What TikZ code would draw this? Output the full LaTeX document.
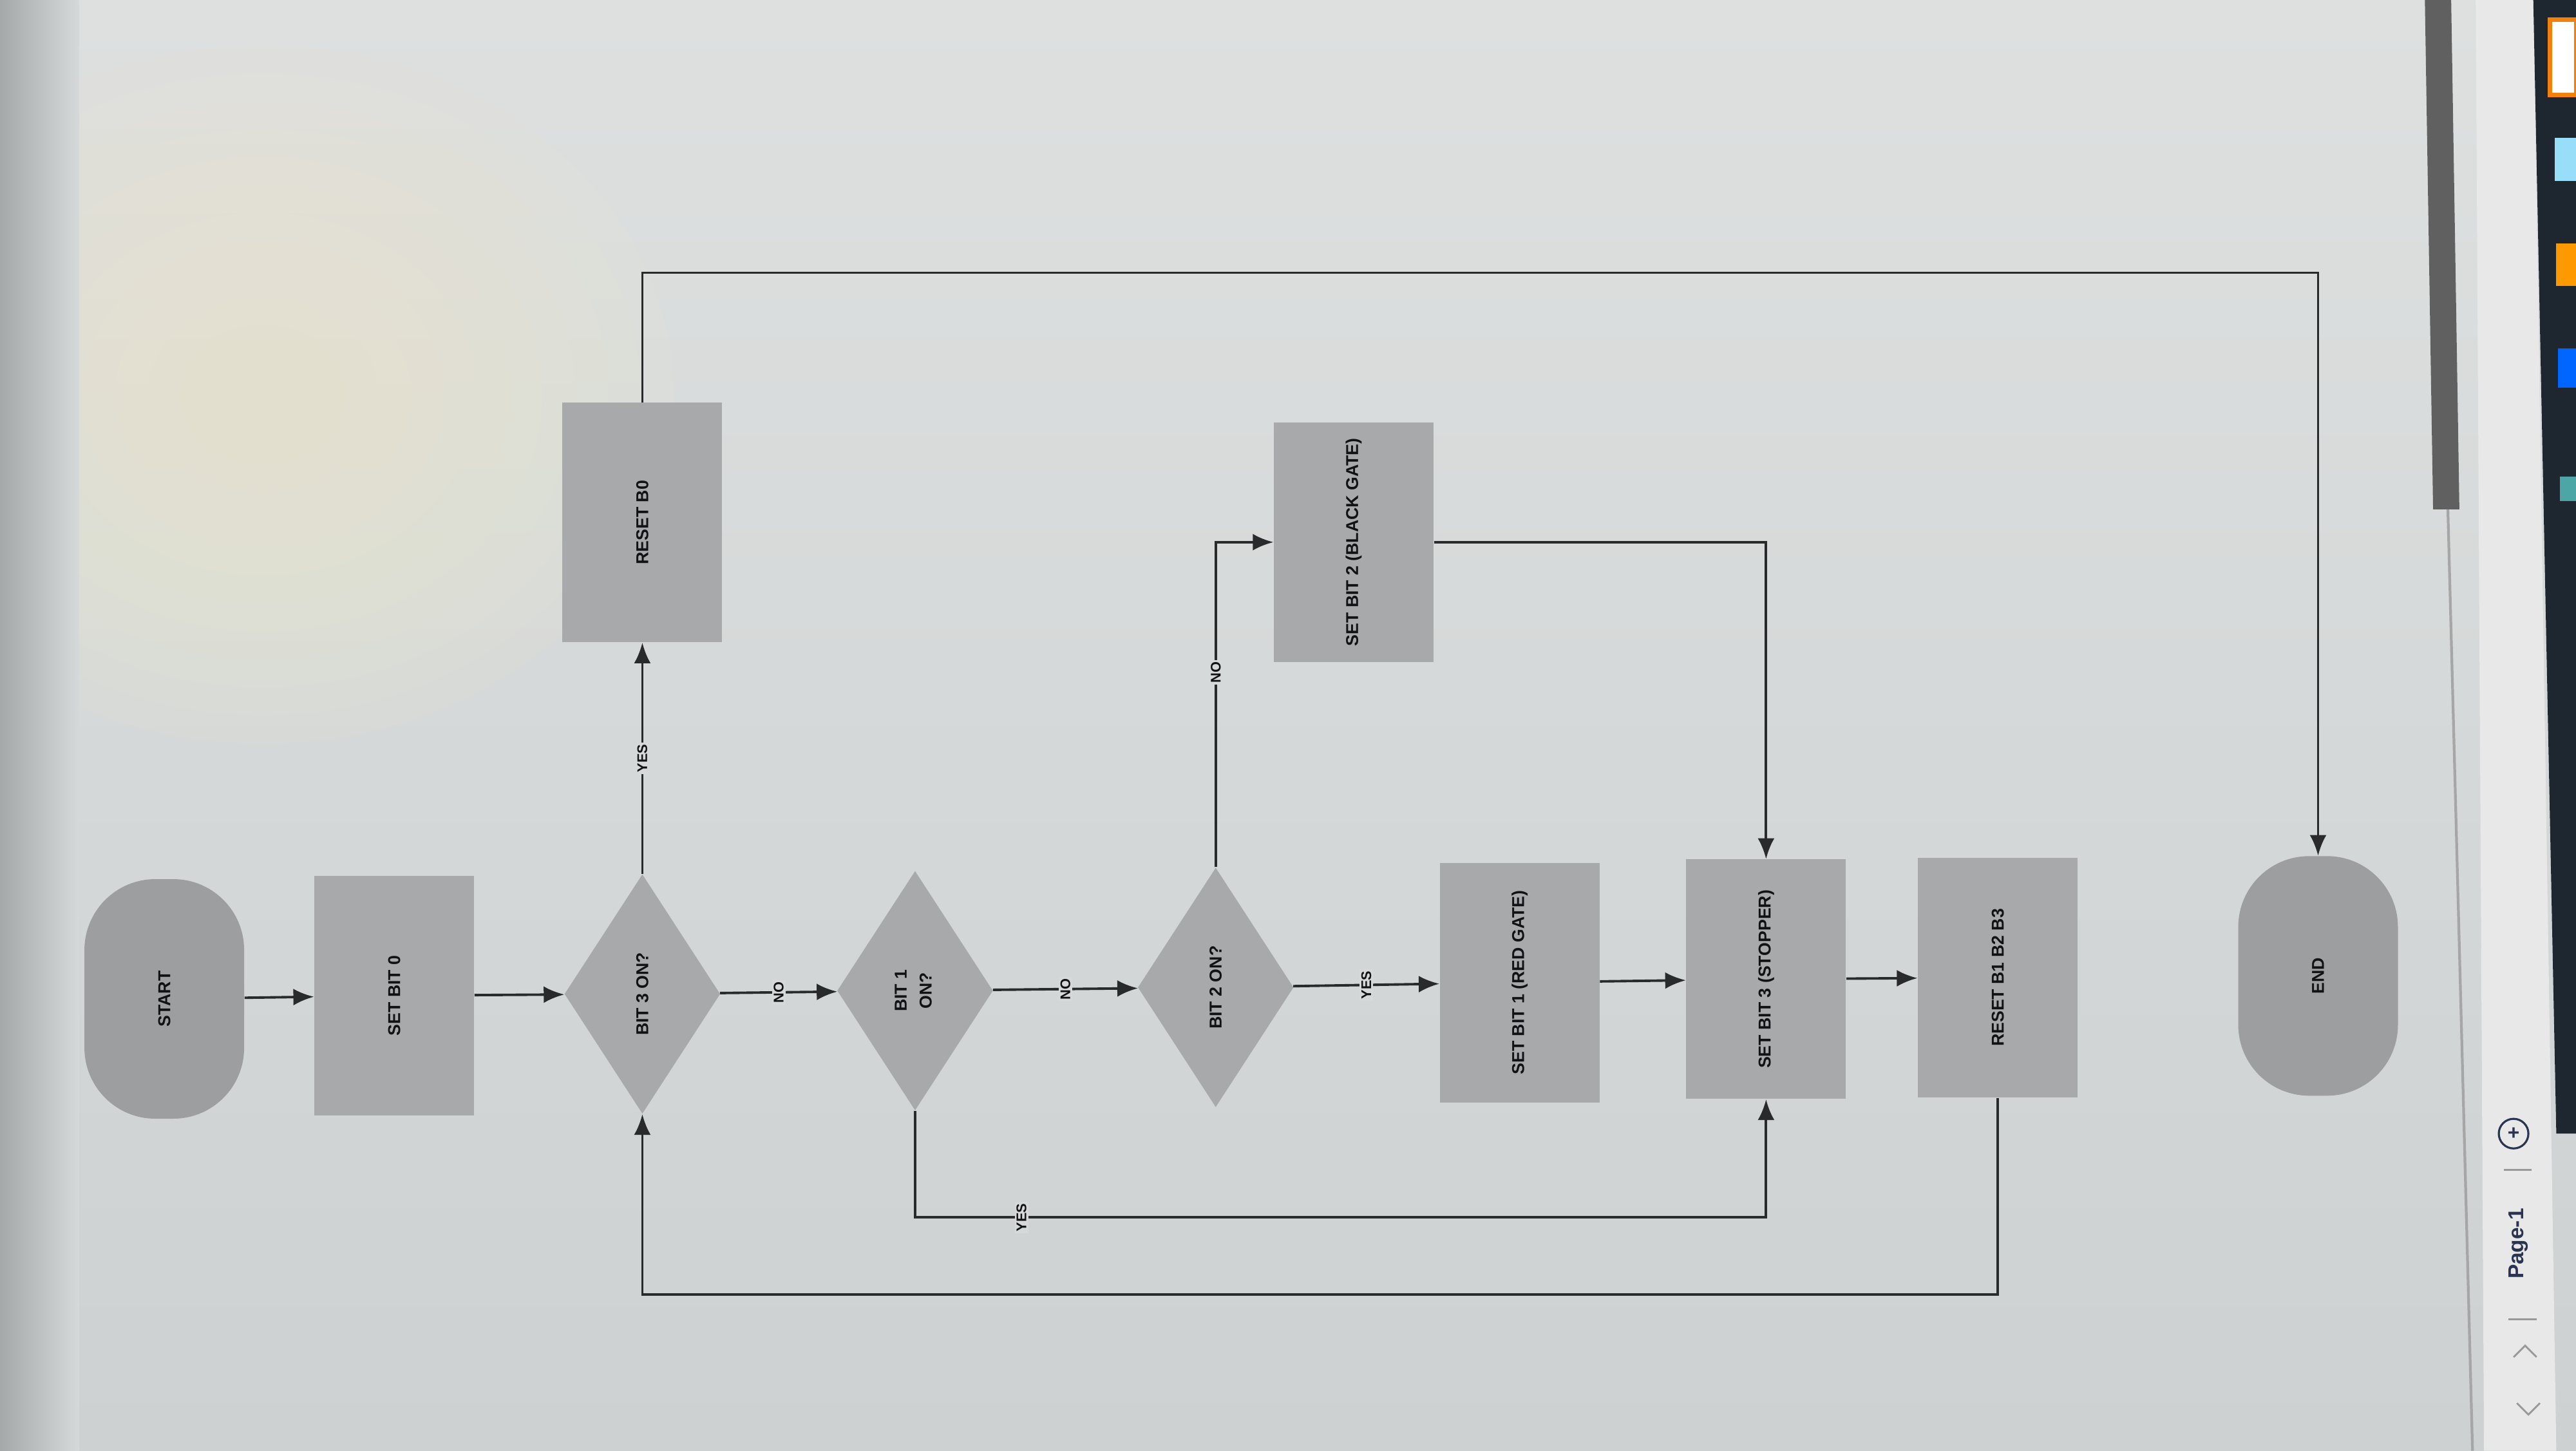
\documentclass[tikz,border=0pt]{standalone}
\usepackage{fontspec}
\setsansfont{Liberation Sans}
\usepackage{tikz}
\usetikzlibrary{arrows.meta,shapes,calc}
\definecolor{screentop}{RGB}{222,224,224}
\definecolor{screen}{RGB}{214,217,217}
\definecolor{screenlow}{RGB}{205,209,209}
\definecolor{glow}{RGB}{238,234,206}
\definecolor{edgegray}{RGB}{165,169,169}
\definecolor{boxgray}{RGB}{167,169,171}
\definecolor{pillgray}{RGB}{156,158,160}
\definecolor{wire}{RGB}{40,42,44}
\definecolor{ink}{RGB}{18,18,22}
\definecolor{tabink}{RGB}{40,52,80}
\definecolor{panel}{RGB}{30,38,48}
\newcommand{\sidetext}[1]{\rotatebox{90}{#1}}
\tikzstyle{procbox}=[rectangle, fill=boxgray, minimum width=2.48cm, minimum height=3.72cm,% grey step box
inner sep=0pt, text=ink, font=\sffamily\bfseries\fontsize{7.6}{9}\selectfont]
\tikzstyle{termbox}=[procbox, fill=pillgray, rounded corners=1.1cm]
\tikzstyle{askbox}=[diamond, fill=boxgray, minimum width=2.42cm, minimum height=3.72cm,% question
inner sep=0pt, text=ink, font=\sffamily\bfseries\fontsize{7.6}{9}\selectfont]
\tikzstyle{flowtag}=[fill=screen, inner sep=0.8pt, rotate=90, text=ink, font=\sffamily\bfseries\fontsize{6.2}{7}\selectfont]
\tikzstyle{dflow}=[->, line width=1.1pt, draw=wire, >={Latex[length=3.2mm,width=2.6mm]}]
\begin{document}
\begin{tikzpicture}[x=0.02551cm, y=-0.02551cm]
\useasboundingbox (0,0) rectangle (1568,883);
% screen
\shade[top color=screentop, bottom color=screenlow] (0,0) rectangle (1568,883);
\foreach \r in {250,230,...,30}
  \fill[glow, opacity=0.09] (160,240) ellipse ({\r} and {0.85*\r});
\shade[left color=edgegray, right color=screen] (0,0) rectangle (48,883);
\fill[gray!75!black] (1476,0) -- (1492,0) -- (1497,310) -- (1481,310) -- cycle;
\draw[gray!70, line width=1.2pt] (1490,310) -- (1505,883);
\fill[gray!18] (1507,0) -- (1542,0) -- (1556,883) -- (1512,883) -- cycle;
\fill[panel] (1542,0) -- (1568,0) -- (1568,690) -- (1556,690) -- cycle;
\fill[white, draw=orange!80!brown, line width=2pt] (1552,12) rectangle (1568,58);
\fill[cyan!40!white] (1555,84) rectangle (1568,110);
\fill[orange!80!yellow] (1556,148) rectangle (1568,174);
\fill[blue!60!cyan] (1557,212) rectangle (1568,236);
\fill[teal!70] (1558,290) rectangle (1568,305);
\node[tabink, font=\sffamily\bfseries\fontsize{9.5}{10}\selectfont] (pagetab) at (1533,757) {\sidetext{Page-1}};
\node[circle, draw=tabink, line width=0.9pt, inner sep=0pt, minimum size=0.46cm, text=tabink, font=\sffamily\bfseries\fontsize{9}{9}\selectfont] (addpage) at (1530,690) {+};
\draw[gray!80, line width=0.8pt] (1524,712) -- (1541,712);
\draw[gray!80, line width=0.8pt] (1527,803) -- (1544,803);
\draw[gray!80, line width=0.8pt] (1530,826) -- (1537,819) -- (1544,826);
\draw[gray!80, line width=0.8pt] (1532,854) -- (1539,861) -- (1546,854);
% flowchart
\node[termbox] (start) at (100,608) {\sidetext{START}};
\node[procbox] (setb0) at (240,606) {\sidetext{SET BIT 0}};
\node[askbox] (ask3) at (391,605) {\sidetext{BIT 3 ON?}};
\node[procbox] (rstb0) at (391,318) {\sidetext{RESET B0}};
\node[askbox] (ask1) at (557,603) {\sidetext{\begin{tabular}{@{}c@{}}BIT 1\\[2pt] ON?\end{tabular}}};
\node[askbox] (ask2) at (740,601) {\sidetext{BIT 2 ON?}};
\node[procbox] (setb2) at (824,330) {\sidetext{SET BIT 2 (BLACK GATE)}};
\node[procbox] (setb1) at (925,598) {\sidetext{SET BIT 1 (RED GATE)}};
\node[procbox] (setb3) at (1075,596) {\sidetext{SET BIT 3 (STOPPER)}};
\node[procbox] (rstall) at (1216,595) {\sidetext{RESET B1 B2 B3}};
\node[termbox] (stop) at (1411,594) {\sidetext{END}};
\coordinate (toprun) at (0,166);
\coordinate (yesrun) at (0,741);
\coordinate (backrun) at (0,788);
\draw[dflow] (start) -- (setb0);
\draw[dflow] (setb0) -- (ask3);
\draw[dflow] (ask3) -- node[flowtag] {YES} (rstb0);
\draw[dflow] (ask3) -- node[flowtag] {NO} (ask1);
\draw[dflow] (ask1) -- node[flowtag] {NO} (ask2);
\draw[dflow] (ask2) -- node[flowtag] {YES} (setb1);
\draw[dflow] (ask2.north) |- node[flowtag, pos=0.3] {NO} (setb2.west);
\draw[dflow] (setb1) -- (setb3);
\draw[dflow] (setb3) -- (rstall);
\draw[dflow] (setb2.east) -| (setb3.north);
\draw[dflow] (ask1.south) -- (ask1.south |- yesrun) -| node[flowtag, pos=0.0625] {YES} (setb3.south);
\draw[dflow] (rstall.south) -- (rstall.south |- backrun) -| (ask3.south);
\draw[dflow] (rstb0.north) -- (rstb0.north |- toprun) -| (stop.north);
\end{tikzpicture}
\end{document}
